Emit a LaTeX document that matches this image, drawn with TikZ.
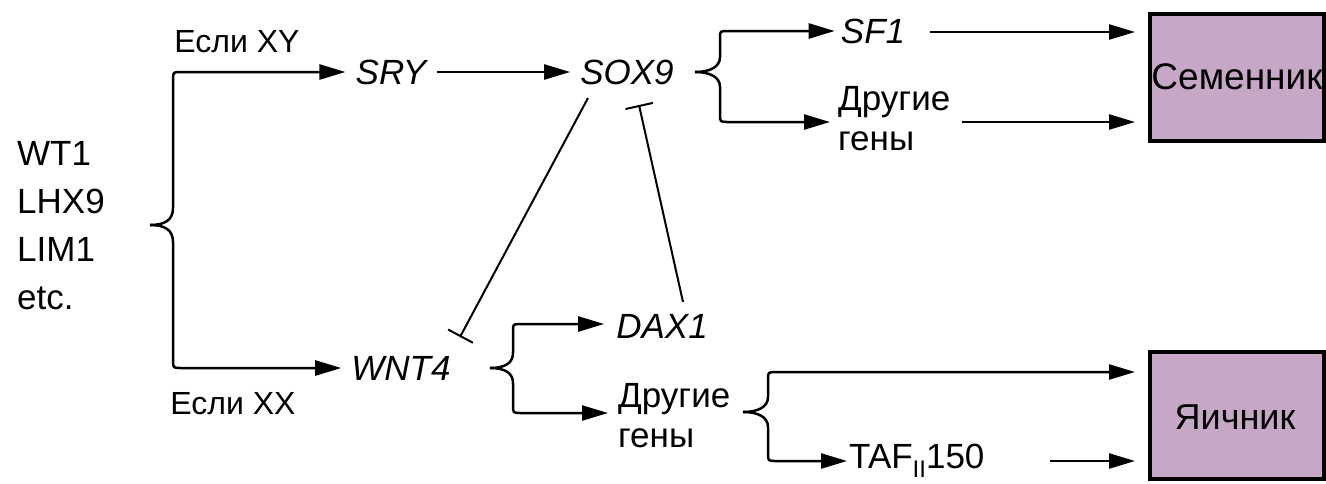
\documentclass[tikz,border=0pt]{standalone}
\usepackage{fontspec}
\setmainfont{Liberation Sans}
\usetikzlibrary{arrows.meta}
\definecolor{boxfill}{RGB}{198,168,198}
\begin{document}
\begin{tikzpicture}[x=1pt,y=-1pt,
  txt/.style={inner xsep=10pt, inner ysep=4pt, font=\fontsize{35}{40}\selectfont},
  gene/.style={txt, font=\fontsize{35}{40}\selectfont\itshape},
  small/.style={txt, font=\fontsize{32}{38}\selectfont},
  arr/.style={line width=2.5pt, -{Triangle[length=26pt,width=15pt]}},
  inh/.style={line width=2pt, -{Bar[width=28pt,line width=2pt]}},
  organ/.style={draw, line width=4pt, fill=boxfill, minimum width=174pt, minimum height=127pt, inner sep=0pt},
  organtxt/.style={inner sep=0pt, font=\fontsize{37}{42}\selectfont}]
\useasboundingbox (0,0) rectangle (1326,483);
\fill[white] (0,0) rectangle (1326,483);

% nodes
\node[txt, anchor=west, align=left, inner xsep=0pt, font=\fontsize{35}{48}\selectfont] (gen) at (17,226) {WT1\\LHX9\\LIM1\\etc.};
\node[small] (ifxy) at (237,42) {Если XY};
\node[small] (ifxx) at (233,404) {Если XX};
\node[gene] (sry) at (391,72) {SRY};
\node[gene] (sox) at (627,72) {SOX9};
\node[gene] (sf) at (873,31) {SF1};
\node[txt, anchor=west, align=left, inner xsep=0pt] (oth1) at (838,119) {Другие\\гены};
\node[gene] (wnt) at (401,368) {WNT4};
\node[gene] (dax) at (662,326) {DAX1};
\node[txt, anchor=west, align=left, inner xsep=0pt] (oth2) at (618,416) {Другие\\гены};
\node[txt, inner xsep=2pt, anchor=west] (taf) at (847,461) {TAF\raisebox{-9pt}{\fontsize{24}{24}\selectfont II}150};
\node[organ] (testis) at (1237,77.5) {};
\node[organtxt] (testisT) at (1237,77) {Семенник};
\node[organ] (ovary) at (1237,415) {};
\node[organtxt, font=\fontsize{36}{40}\selectfont] (ovaryT) at (1235,417) {Яичник};

% brace tips
\coordinate (b1) at (150,225);
\coordinate (b2) at (695,72);
\coordinate (b3) at (490,368);
\coordinate (b4) at (743,412);

% brace 1
\draw[arr] (b1) .. controls (165,225) and (173,220) .. (173,208) -- (173,80) .. controls (173,72) .. (181,72) -- (sry.west);
\draw[arr] (b1) .. controls (165,225) and (173,230) .. (173,242) -- (173,360) .. controls (173,368) .. (181,368) -- (wnt.west);
% sry -> sox
\draw[arr] (sry.east) -- (sox.west);
% brace 2
\draw[arr] (b2) .. controls (710,72) and (720,67) .. (720,57) -- (720,38) .. controls (720,31) .. (728,31) -- ([xshift=4pt]sf.west);
\draw[arr] (b2) .. controls (710,72) and (720,77) .. (720,87) -- (720,114) .. controls (720,122) .. (728,122) -- ([xshift=-8pt,yshift=-3pt]oth1.west);
% brace 3
\draw[arr] (b3) .. controls (505,368) and (513,363) .. (513,353) -- (513,331) .. controls (513,324) .. (521,324) -- ([xshift=-2pt,yshift=2pt]dax.west);
\draw[arr] (b3) .. controls (505,368) and (513,373) .. (513,383) -- (513,405) .. controls (513,413) .. (521,413) -- ([xshift=-10pt,yshift=3pt]oth2.west);
% brace 4
\draw[arr] (b4) .. controls (758,412) and (768,407) .. (768,397) -- (768,380) .. controls (768,372) .. (776,372) -- ([xshift=-13pt,yshift=43pt]ovary.west);
\draw[arr] (b4) .. controls (758,412) and (768,417) .. (768,427) -- (768,453) .. controls (768,461) .. (776,461) -- (taf.west);

% to organs
\draw[arr] ([xshift=15pt,yshift=-1pt]sf.east) -- ([xshift=-13pt,yshift=45.5pt]testis.west);
\draw[arr] ([xshift=124pt,yshift=-3pt]oth1.west) -- ([xshift=-13pt,yshift=-44.5pt]testis.west);
\draw[arr] ([xshift=203pt]taf.west) -- ([xshift=-13pt,yshift=-46pt]ovary.west);

% inhibitions
\draw[inh] ([shift={(-39,26)}]sox.center) -- ([shift={(59,-31)}]wnt.center);
\draw[inh] ([shift={(21,-24)}]dax.center) -- ([shift={(12,33)}]sox.center);
\end{tikzpicture}
\end{document}
